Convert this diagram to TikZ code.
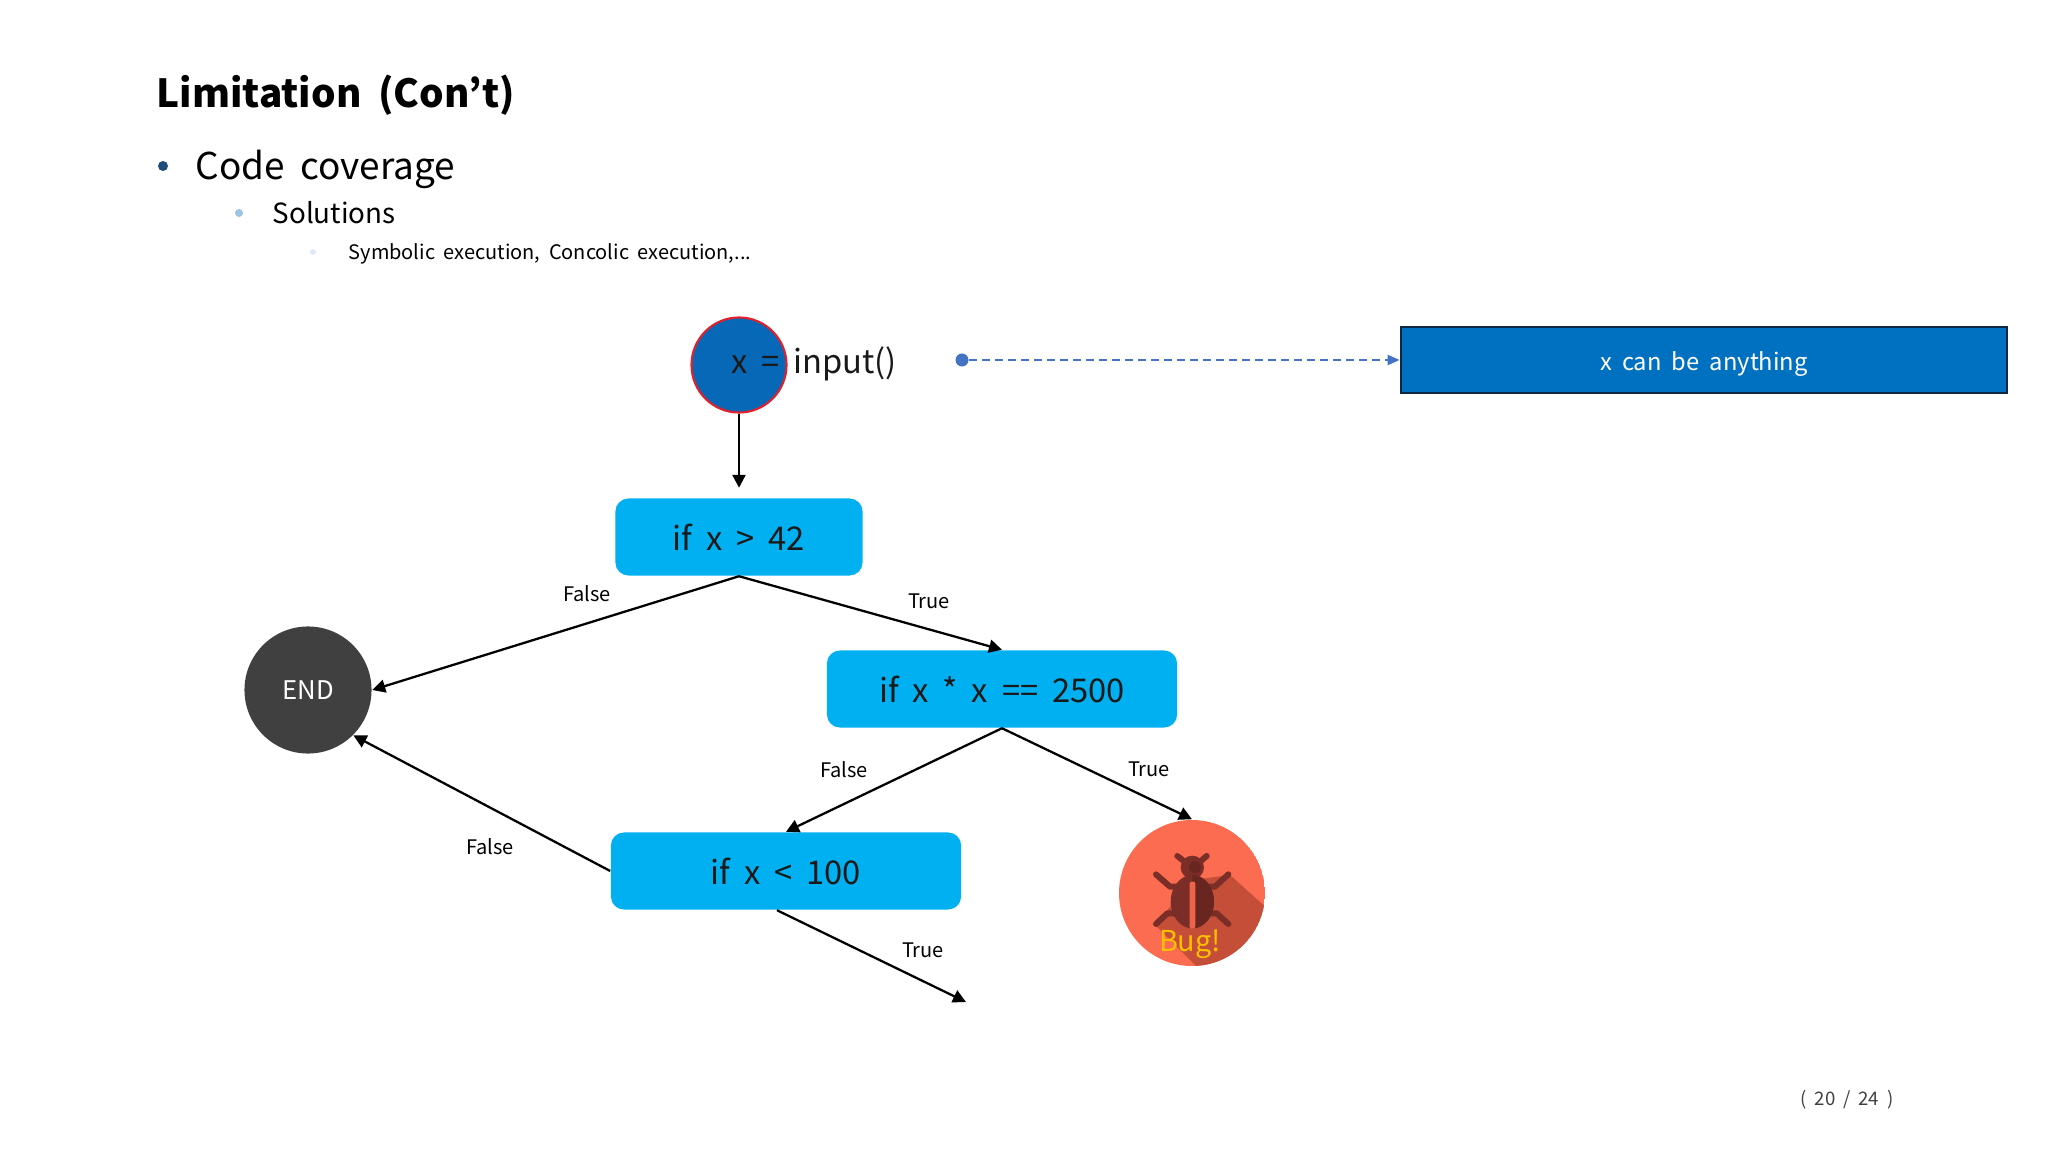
\documentclass[tikz,border=0pt]{standalone}
\usepackage{fontspec}
\setmainfont[WordSpace=1.9]{Noto Sans CJK KR}
\usetikzlibrary{arrows.meta,calc}
\definecolor{boxblue}{HTML}{00B0F0}
\definecolor{deepblue}{HTML}{0070C0}
\definecolor{inpblue}{HTML}{0868B8}
\definecolor{dashblue}{HTML}{4472C4}
\definecolor{darkgrey}{HTML}{404040}
\definecolor{bugbg}{HTML}{FB6C50}
\definecolor{bugshadow}{HTML}{C44E37}
\definecolor{bugbody}{HTML}{7A2E27}
\definecolor{bugdark}{HTML}{692520}
\tikzset{
  x=0.01cm,y=-0.01cm,
  decision/.style={draw=none,fill=boxblue,rounded corners=0.13cm,minimum width=3.5cm,minimum height=0.77cm,inner sep=0pt,font=\fontsize{9.3}{11}\selectfont,text=black!90},
  flow/.style={draw=black,line width=0.65pt,-{Triangle[length=0.13cm,width=0.13cm]}},
  edgelabel/.style={inner sep=0pt,font=\fontsize{5.7}{7}\selectfont,text=black},
  txt/.style={anchor=base west,inner sep=0pt,text=black},
  bul/.style={circle,inner sep=0pt,draw=none},
  leg/.style={draw=bugbody,line width=1.7pt,line cap=round,line join=round},
}
\begin{document}
\begin{tikzpicture}
\useasboundingbox (0,0) rectangle (2048,1152);
\fill[white] (0,0) rectangle (2048,1152);
% header text
\node[txt,font=\fontsize{11}{14}\selectfont\bfseries] (title) at (156,108) {Limitation (Con’t)};
\node[bul,fill={rgb,255:red,31;green,78;blue,121},minimum size=0.1cm] (b1) at (163,166) {};
\node[txt,font=\fontsize{10.5}{12}\selectfont] (l1) at (195,180) {Code coverage};
\node[bul,fill={rgb,255:red,157;green,195;blue,230},minimum size=0.08cm] (b2) at (239,213) {};
\node[txt,font=\fontsize{7.9}{10}\selectfont] (l2) at (272,224) {Solutions};
\node[bul,fill={rgb,255:red,222;green,235;blue,247},minimum size=0.06cm] (b3) at (313,252) {};
\node[txt,font=\fontsize{5.68}{8}\selectfont] (l3) at (348,260) {Symbolic execution, Concolic execution,...};
% input
\node[circle,draw={rgb,255:red,224;green,32;blue,42},fill=inpblue,line width=0.6pt,minimum size=0.95cm,inner sep=0pt] (inp) at (739,365) {};
\node[inner sep=0pt,font=\fontsize{9.3}{11}\selectfont,text=black!90] (inptxt) at (814,364) {x = input()};
% boxes
\node[decision,minimum width=2.47cm] (d1) at (739,537) {if x > 42};
\node[decision] (d2) at (1002,689) {if x * x == 2500};
\node[decision] (d3) at (786,871) {if x < 100};
\node[circle,fill=darkgrey,minimum size=1.27cm,inner sep=0pt,text=white,font=\fontsize{7.3}{9}\selectfont] (fin) at (308,690) {END};
% bug
\begin{scope}
\clip (1192,893) circle (73);
\fill[bugbg] (1192,893) circle (73);
\begin{scope}[shift={(1080,780)},scale=1/3]
\fill[bugshadow] (450,285) -- (600,420) -- (600,600) -- (390,600) -- (225,435) -- (337,300) -- cycle;
\draw[leg] (228,283) -- (270,320) -- (300,320);
\draw[leg] (445,283) -- (405,320) -- (375,320);
\draw[leg] (228,432) -- (262,400) -- (300,400);
\draw[leg] (445,432) -- (410,400) -- (375,400);
\draw[leg] (292,228) -- (320,250);
\draw[leg] (380,228) -- (354,250);
\fill[bugbody] (337,262) circle (35);
\fill[bugdark] (345,262) circle (18);
\fill[bugbody] (337,365) ellipse (65 and 80);
\begin{scope}
\clip (337,280) rectangle (410,450);
\fill[bugdark] (337,365) ellipse (65 and 80);
\end{scope}
\fill[bugbg!75!bugshadow,rounded corners=0.02cm] (329,305) rectangle (346,446);
\end{scope}
\end{scope}
\node[circle,minimum size=1.46cm,inner sep=0pt] (bug) at (1192,893) {};
\node[inner sep=0pt,text={rgb,255:red,255;green,192;blue,0},font=\fontsize{8.2}{10}\selectfont] (bugtxt) at (1190,944) {Bug!};
% right callout
\node[fill=deepblue,draw={rgb,255:red,15;green,40;blue,70},line width=0.7pt,minimum width=6.06cm,minimum height=0.66cm,inner sep=0pt,text=white,font=\fontsize{6.75}{9}\selectfont] (note) at (1704,360) {};
\node[inner sep=0pt,text=white,font=\fontsize{6.75}{9}\selectfont] (notetxt) at (1704,364) {x can be anything};
\node[circle,fill=dashblue,minimum size=0.13cm,inner sep=0pt] (dot) at (962,360) {};
\draw[dashblue,line width=0.65pt,dash pattern=on 0.08cm off 0.05cm,-{Triangle[length=0.12cm,width=0.1cm]}] (dot.east) -- (dot.east -| note.west);
% connectors
\draw[flow,shorten >=0.1cm] (inp.south) -- (d1.north);
\draw[flow] (d1.south) -- (fin.east);
\draw[flow] (d1.south) -- (d2.north);
\draw[flow] (d2.south) -- (d3.north);
\draw[flow] (d2.south) -- (bug.north);
\draw[flow] (d3.west) -- (fin.-45);
\coordinate (d3out) at ($(d3.south)+(-9,0)$);
\coordinate (open) at (966,1002);
\draw[flow] (d3out) -- (open);
% labels
\node[edgelabel] (f1) at (587,594) {False};
\node[edgelabel] (t1) at (929,601) {True};
\node[edgelabel] (f2) at (844,770) {False};
\node[edgelabel] (t2) at (1149,769) {True};
\node[edgelabel] (f3) at (490,847) {False};
\node[edgelabel] (t3) at (923,950) {True};
\node[inner sep=0pt,font=\fontsize{5.3}{7}\selectfont,text=black!75] (page) at (1847,1100) {( 20 / 24 )};
\end{tikzpicture}
\end{document}
